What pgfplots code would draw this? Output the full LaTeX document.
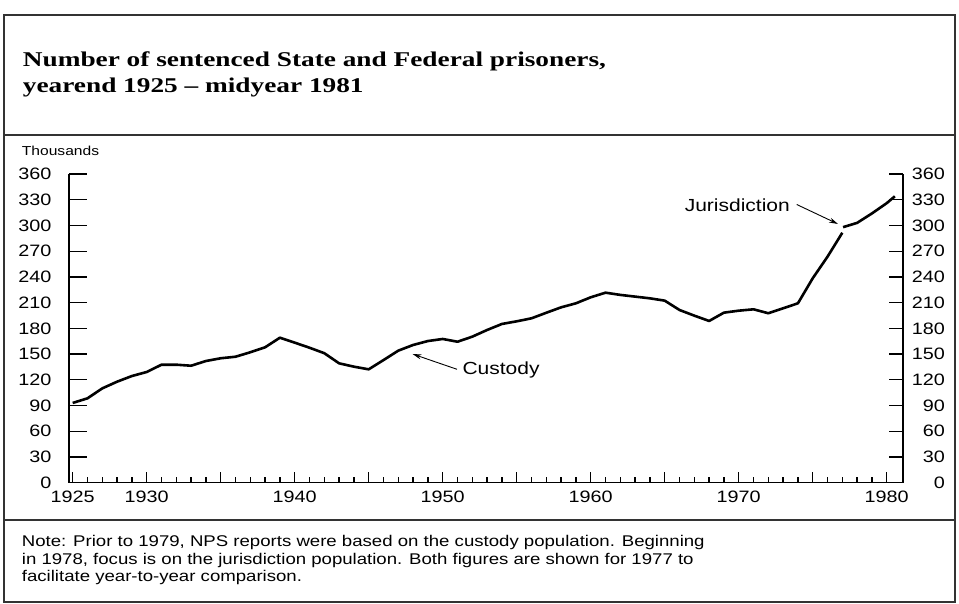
\documentclass[border=0pt]{standalone}
\usepackage{fontspec}
\setmainfont{Liberation Sans}[FakeStretch=1.2]
\newfontfamily\titlefont{Liberation Serif}[FakeStretch=1.3]
\usepackage{pgfplots}
\pgfplotsset{compat=1.18}
\usetikzlibrary{arrows.meta}
\newcommand\tickfont{\fontsize{16.5bp}{19bp}\selectfont}
\newcommand\annfont{\fontsize{17.5bp}{20bp}\selectfont}
\newcommand\notefont{\fontsize{15.5bp}{18bp}\selectfont}
\begin{document}
\begin{tikzpicture}[x=1bp,y=1bp]
\path[use as bounding box] (0,0) rectangle (959,604);
% frame
\draw[black!80, line width=1.2bp] (4,2) rectangle (955,589);
\draw[black!80, line width=1.2bp] (4,469) -- (955,469);
\draw[black!80, line width=1.2bp] (4,84) -- (955,84);
% title
\node[anchor=base west, inner sep=0] at (22.7,537.3) {\titlefont\bfseries\fontsize{21bp}{25bp}\selectfont Number of sentenced State and Federal prisoners,};
\node[anchor=base west, inner sep=0] at (22.7,511.3) {\titlefont\bfseries\fontsize{21bp}{25bp}\selectfont yearend 1925 \textendash\ midyear 1981};
\node[anchor=base west, inner sep=0] at (21.7,448.7) {\fontsize{13bp}{15bp}\selectfont Thousands};
% note
\node[anchor=base west, inner sep=0] at (21.7,57.3) {\notefont Note: Prior to 1979, NPS reports were based on the custody population. Beginning};
\node[anchor=base west, inner sep=0] at (21.7,39.7) {\notefont in 1978, focus is on\ the jurisdiction population. Both figures are shown for 1977 to};
\node[anchor=base west, inner sep=0] at (21.7,22) {\notefont facilitate year-to-year comparison.};

\pgfplotsset{
  myaxis/.style={
    at={(69bp,121.3bp)}, anchor=south west, scale only axis,
    width=834bp, height=308.7bp,
    xmin=1924.75, xmax=1981.1, ymin=0, ymax=360,
    clip=false,
    /pgf/number format/assume math mode=true,
    tick align=inside,
    every tick/.style={black, line width=1.3bp},
    axis line style={black, line width=1.4bp, -},
    every outer x axis line/.append style={-},
    every outer y axis line/.append style={-},
  }
}
% x axis + data
\begin{axis}[myaxis,
  axis x line*=bottom, axis y line=none,
  ytick=\empty,
  xtick={1925,1930,...,1980},
  xticklabels={1925,1930,,1940,,1950,,1960,,1970,,1980},
  minor x tick num=4,
  major tick length=11bp, minor tick length=6bp,
  xticklabel style={font=\tickfont, anchor=north, inner sep=0pt, yshift=-8.5bp},
]
\addplot[black, line width=2.6bp, line join=round, mark=none] coordinates {
(1925,93) (1926,98.4) (1927,110) (1928,117.8) (1929,124.4) (1930,129.1)
(1931,137.6) (1932,137.6) (1933,136.4) (1934,141.9) (1935,145.1) (1936,146.9)
(1937,152.1) (1938,157.9) (1939,169.1) (1940,163.3) (1941,157.4) (1942,151)
(1943,139.2) (1944,135.3) (1945,132.2) (1946,143) (1947,154) (1948,160.6)
(1949,165.2) (1950,167.6) (1951,164.4) (1952,170.3) (1953,178.1) (1954,185.1)
(1955,188.2) (1956,191.7) (1957,198.2) (1958,204.5) (1959,209.2) (1960,216.2)
(1961,221.6) (1962,219) (1963,217) (1964,215) (1965,212.3) (1966,201.4)
(1967,194.8) (1968,188.6) (1969,198.3) (1970,200.6) (1971,202.2) (1972,197.6)
(1973,203.4) (1974,209.2) (1975,238.4) (1976,263.6) (1977,291.5)
};
\addplot[black, line width=2.6bp, line join=round, mark=none] coordinates {
(1977.05,298) (1978,303) (1979,314) (1980,326) (1980.55,334)
};
\end{axis}
% left y axis
\begin{axis}[myaxis,
  axis y line*=left, axis x line=none,
  xtick=\empty,
  ytick={0,30,...,360},
  major tick length=18bp,
  yticklabel style={font=\tickfont, anchor=east, inner sep=0pt, xshift=-17.3bp},
]
\end{axis}
% right y axis
\begin{axis}[myaxis,
  axis y line*=right, axis x line=none,
  xtick=\empty,
  ytick={0,30,...,360},
  major tick length=14bp,
  yticklabel style={font=\tickfont, anchor=east, inner sep=0pt, xshift=42bp},
]
\end{axis}
% annotations
\node[anchor=west, inner sep=0] at (462.3,234) {\annfont Custody};
\draw[black, line width=0.9bp, -{Stealth[length=9bp,width=5bp]}] (457,234.7) -- (412.5,250);
\node[anchor=east, inner sep=0] at (790,399) {\annfont Jurisdiction};
\draw[black, line width=0.9bp, -{Stealth[length=9bp,width=5bp]}] (796.7,399.5) -- (838,380);
\end{tikzpicture}
\end{document}
